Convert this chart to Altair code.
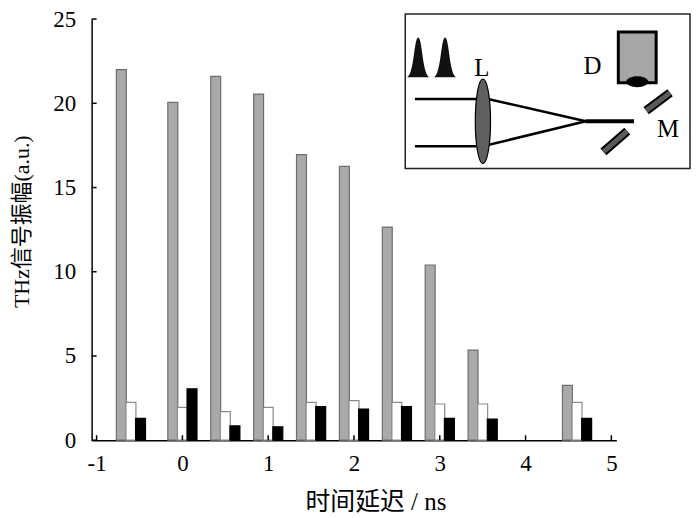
import altair as alt
import pandas as pd

# ---- main data ----
groups = [-0.6, 0.0, 0.5, 1.0, 1.5, 2.0, 2.5, 3.0, 3.5, 4.6]
gray_vals = [22.0, 20.05, 21.6, 20.55, 16.95, 16.25, 12.65, 10.4, 5.35, 3.25]
white_vals = [2.25, 1.95, 1.7, 1.95, 2.25, 2.35, 2.25, 2.15, 2.15, 2.25]
black_vals = [1.3, 3.05, 0.85, 0.8, 2.0, 1.85, 2.0, 1.3, 1.25, 1.3]
series_offset = {"gray": -0.112, "white": 0.0, "black": 0.112}

x_ticks = [-1, 0, 1, 2, 3, 4, 5]
y_ticks = [0, 5, 10, 15, 20, 25]

rows = []
for name, vals in [("gray", gray_vals), ("white", white_vals), ("black", black_vals)]:
    for g, v in zip(groups, vals):
        rows.append({"series": name, "x": g + series_offset[name], "v": v})
bars = pd.DataFrame(rows)

FONT = "Liberation Serif, Noto Sans CJK SC"

W, H = 527, 423
xs = alt.Scale(domain=[-1, 5], nice=False, zero=False)
ys = alt.Scale(domain=[0, 25], nice=False)

x_axis = alt.Axis(
    values=x_ticks, title="时间延迟 / ns", ticks=False, grid=False,
    labelExpr="toString(datum.value)",
    labelFont=FONT, labelFontSize=23, labelColor="black", labelPadding=12,
    titleFont=FONT, titleFontSize=25, titleFontWeight="normal", titleColor="black",
    titleX=285, titleY=62, titleAlign="center", titleBaseline="middle",
    domainColor="black", domainWidth=1.5)
y_axis = alt.Axis(
    values=y_ticks, title="THz信号振幅(a.u.)", ticks=False, grid=False,
    labelFont=FONT, labelFontSize=23, labelColor="black", labelPadding=16,
    titleFont=FONT, titleFontSize=22, titleFontWeight="normal", titleColor="black",
    titleX=-70, titleY=203, titleAlign="center", titleBaseline="middle", titleAngle=-90,
    domainColor="black", domainWidth=1.5)


def bar_layer(name, fill, stroke):
    return alt.Chart(bars[bars.series == name]).mark_bar(
        size=10, fill=fill, stroke=stroke, strokeWidth=1.2
    ).encode(
        x=alt.X("x:Q", scale=xs, axis=x_axis),
        y=alt.Y("v:Q", scale=ys, axis=y_axis),
    )


gray_l = bar_layer("gray", "#a9a9a9", "#6e6e6e")
white_l = bar_layer("white", "#ffffff", "#8a8a8a")
black_l = bar_layer("black", "#000000", "#000000")

ytick_df = pd.DataFrame({"t": y_ticks})
xtick_df = pd.DataFrame({"t": x_ticks})
ytick_l = alt.Chart(ytick_df).mark_rule(color="black", strokeWidth=1.5).encode(
    y=alt.Y("t:Q", scale=ys, axis=y_axis), x=alt.value(0), x2=alt.value(5))
xtick_l = alt.Chart(xtick_df).mark_rule(color="black", strokeWidth=1.5).encode(
    x=alt.X("t:Q", scale=xs, axis=x_axis), y=alt.value(H), y2=alt.value(H - 5))

main = alt.layer(gray_l, white_l, black_l, ytick_l, xtick_l)

# ---- inset diagram (local coordinates of the inset box) ----
ix = alt.Scale(domain=[0, 286], range=[315, 601], nice=False, zero=False)
iy = alt.Scale(domain=[0, 155], range=[-5, 150], nice=False, zero=False)
NA = None

box_df = pd.DataFrame({"x": [0], "x2": [286], "y": [0], "y2": [155]})
box = alt.Chart(box_df).mark_rect(fill="white", stroke="#222", strokeWidth=1.5).encode(
    x=alt.X("x:Q", scale=ix, axis=NA), x2="x2:Q",
    y=alt.Y("y:Q", scale=iy, axis=NA), y2="y2:Q")

beam_x1 = [9.7, 9.7, 83, 83, 181]
beam_y1 = [85.3, 132.7, 85.3, 131.5, 107.7]
beam_x2 = [73, 73, 181.3, 181.3, 229.7]
beam_y2 = [85.3, 132.7, 107.7, 107.7, 107.7]
beam_w = [2.5, 2.5, 2.5, 2.5, 4]
beams_df = pd.DataFrame({"x": beam_x1, "y": beam_y1, "x2": beam_x2, "y2": beam_y2, "w": beam_w})
beams = alt.Chart(beams_df).mark_rule(color="black").encode(
    x=alt.X("x:Q", scale=ix, axis=NA), x2="x2:Q",
    y=alt.Y("y:Q", scale=iy, axis=NA), y2="y2:Q",
    strokeWidth=alt.StrokeWidth("w:Q", scale=None, legend=None))

ELLIPSE_LENS = ("M0,-1 C0.0994,-1 0.18,-0.5523 0.18,0 C0.18,0.5523 0.0994,1 0,1 "
                "C-0.0994,1 -0.18,0.5523 -0.18,0 C-0.18,-0.5523 -0.0994,-1 0,-1 Z")
lens_df = pd.DataFrame({"x": [78], "y": [107.7]})
lens = alt.Chart(lens_df).mark_point(
    shape=ELLIPSE_LENS, size=7225, filled=True, fill="#5f5f5f", stroke="black",
    strokeWidth=1.2, opacity=1).encode(
    x=alt.X("x:Q", scale=ix, axis=NA), y=alt.Y("y:Q", scale=iy, axis=NA))

PULSE = "M-0.6,1 C-0.2,1 -0.22,-1 0,-1 C0.22,-1 0.2,1 0.6,1 Z"
pulse_x = [13, 40]
pulse_y = [43.5, 43.5]
pulses = alt.Chart(pd.DataFrame({"x": pulse_x, "y": pulse_y})).mark_point(
    shape=PULSE, size=1600, filled=True, fill="#111", opacity=1, strokeWidth=0).encode(
    x=alt.X("x:Q", scale=ix, axis=NA), y=alt.Y("y:Q", scale=iy, axis=NA))

det_df = pd.DataFrame({"x": [214], "x2": [252], "y": [18], "y2": [69]})
detector = alt.Chart(det_df).mark_rect(fill="#a6a6a6", stroke="black", strokeWidth=3).encode(
    x=alt.X("x:Q", scale=ix, axis=NA), x2="x2:Q",
    y=alt.Y("y:Q", scale=iy, axis=NA), y2="y2:Q")

ELLIPSE_DET = ("M0,-0.5 C0.5523,-0.5 1,-0.276 1,0 C1,0.276 0.5523,0.5 0,0.5 "
               "C-0.5523,0.5 -1,0.276 -1,0 C-1,-0.276 -0.5523,-0.5 0,-0.5 Z")
det_lens = alt.Chart(pd.DataFrame({"x": [233], "y": [68]})).mark_point(
    shape=ELLIPSE_DET, size=484, filled=True, fill="black", opacity=1, strokeWidth=0).encode(
    x=alt.X("x:Q", scale=ix, axis=NA), y=alt.Y("y:Q", scale=iy, axis=NA))

mir_x1 = [242, 199]
mir_y1 = [97, 138.5]
mir_x2 = [266, 223]
mir_y2 = [79, 117.5]
mir_df = pd.DataFrame({"x": mir_x1, "y": mir_y1, "x2": mir_x2, "y2": mir_y2})
mir_outer = alt.Chart(mir_df).mark_rule(color="black", strokeWidth=9, strokeCap="butt").encode(
    x=alt.X("x:Q", scale=ix, axis=NA), x2="x2:Q",
    y=alt.Y("y:Q", scale=iy, axis=NA), y2="y2:Q")
mir_inner = alt.Chart(mir_df).mark_rule(color="#5a5a5a", strokeWidth=5, strokeCap="butt").encode(
    x=alt.X("x:Q", scale=ix, axis=NA), x2="x2:Q",
    y=alt.Y("y:Q", scale=iy, axis=NA), y2="y2:Q")

label_txt = ["L", "D", "M"]
label_x = [77, 188, 264]
label_y = [54, 52, 115]
labels = alt.Chart(pd.DataFrame({"t": label_txt, "x": label_x, "y": label_y})).mark_text(
    font=FONT, fontSize=25, color="black", align="center", baseline="middle").encode(
    x=alt.X("x:Q", scale=ix, axis=NA), y=alt.Y("y:Q", scale=iy, axis=NA), text="t:N")

inset = alt.layer(box, beams, lens, pulses, detector, det_lens, mir_outer, mir_inner, labels)

chart = alt.layer(main, inset).resolve_scale(x="independent", y="independent").properties(
    width=W, height=H,
    autosize=alt.AutoSizeParams(type="none"),
    padding={"left": 84, "top": 10, "right": 76, "bottom": 76},
    view=alt.ViewBackground(stroke="transparent", strokeWidth=0),
).configure_view(strokeWidth=0, stroke="transparent").configure_axis(
    grid=False, titleColor="black", labelColor="black",
    labelFont=FONT, titleFont=FONT,
).configure(background="white", font=FONT, style={"cell": {"stroke": "transparent", "strokeWidth": 0}})

chart.save("out.html", embed_options={"renderer": "svg", "actions": False})
